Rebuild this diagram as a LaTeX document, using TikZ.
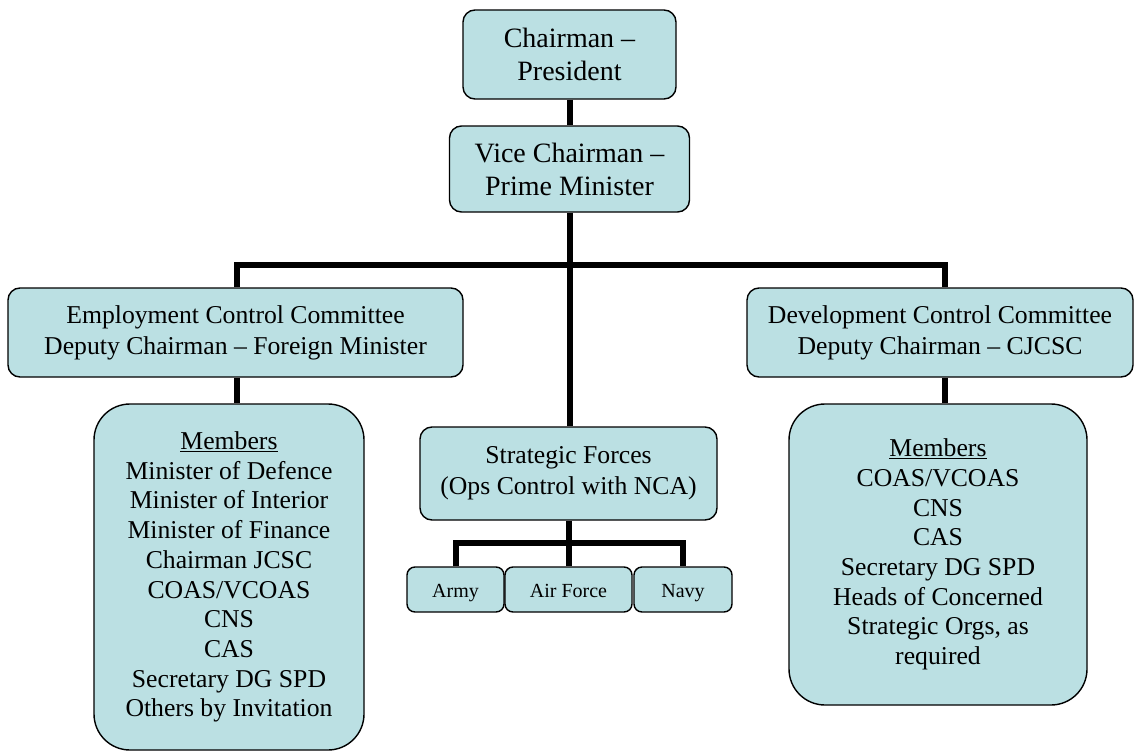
\documentclass[tikz,border=0pt]{standalone}
\usepackage{fontspec}
\setmainfont{Liberation Serif}
\usetikzlibrary{positioning}
\definecolor{boxfill}{RGB}{187,224,227}
\tikzset{
orgbox/.style={draw=black, fill=boxfill, line width=1.4pt, rounded corners=12pt, align=center, inner sep=0pt},
memberbox/.style={orgbox, rounded corners=36pt},
forcebox/.style={orgbox, rounded corners=8pt, minimum height=45pt, text height=17pt, text depth=2pt, font=\fontsize{20}{24}\selectfont},
topfont/.style={font=\fontsize{28}{33}\selectfont},
midfont/.style={font=\fontsize{25.7}{31}\selectfont},
memfont/.style={font=\fontsize{25.7}{29.7}\selectfont},
link/.style={line width=6pt, line join=miter}
}

\begin{document}
\begin{tikzpicture}[x=1pt, y=-1pt]
\useasboundingbox (0,0) rectangle (1134,752);
\coordinate (busL) at (237,265);
\coordinate (busR) at (945,265);
\coordinate (subL) at (456,543);
\coordinate (subR) at (683,543);

\node[orgbox, topfont, minimum width=213pt, minimum height=89pt] (chair) at (569.5,54.5) {Chairman --\\President};
\node[orgbox, topfont, minimum width=240pt, minimum height=86pt] (vice) at (569.5,169) {Vice Chairman --\\Prime Minister};
\node[orgbox, midfont, minimum width=455pt, minimum height=89pt] (ecc) at (235.5,332.5) {Employment Control Committee\\Deputy Chairman -- Foreign Minister};
\node[orgbox, midfont, minimum width=386pt, minimum height=89pt] (dcc) at (940,332.5) {Development Control Committee\\Deputy Chairman -- CJCSC};
\node[memberbox, memfont, minimum width=270pt, minimum height=346pt] (memL) at (229,577) {\underline{Members}\\Minister of Defence\\Minister of Interior\\Minister of Finance\\Chairman JCSC\\COAS/VCOAS\\CNS\\CAS\\Secretary DG SPD\\Others by Invitation};
\node[memberbox, memfont, minimum width=298pt, minimum height=301pt] (memR) at (938,554.5) {\underline{Members}\\COAS/VCOAS\\CNS\\CAS\\Secretary DG SPD\\Heads of Concerned\\Strategic Orgs, as\\required};
\node[orgbox, midfont, minimum width=297pt, minimum height=93pt] (sf) at (568.5,473.5) {Strategic Forces\\(Ops Control with NCA)};
\node[forcebox, minimum width=97pt] (army) at (455.5,589.5) {Army};
\node[forcebox, minimum width=127pt] (airf) at (568.5,589.5) {Air Force};
\node[forcebox, minimum width=98pt] (navy) at (683,589.5) {Navy};

\draw[link] (chair.south) -- (vice.north);
\draw[link] (vice.south) -- (vice.south |- sf.north);
\draw[link] (ecc.north -| busL) -- (busL) -- (busR) -- (busR |- dcc.north);
\draw[link] (ecc.south -| busL) -- (memL.north -| busL);
\draw[link] (dcc.south -| busR) -- (memR.north -| busR);
\draw[link] (sf.south) -- (airf.north);
\draw[link] (army.north -| subL) -- (subL) -- (subR) -- (navy.north -| subR);
\end{tikzpicture}
\end{document}
